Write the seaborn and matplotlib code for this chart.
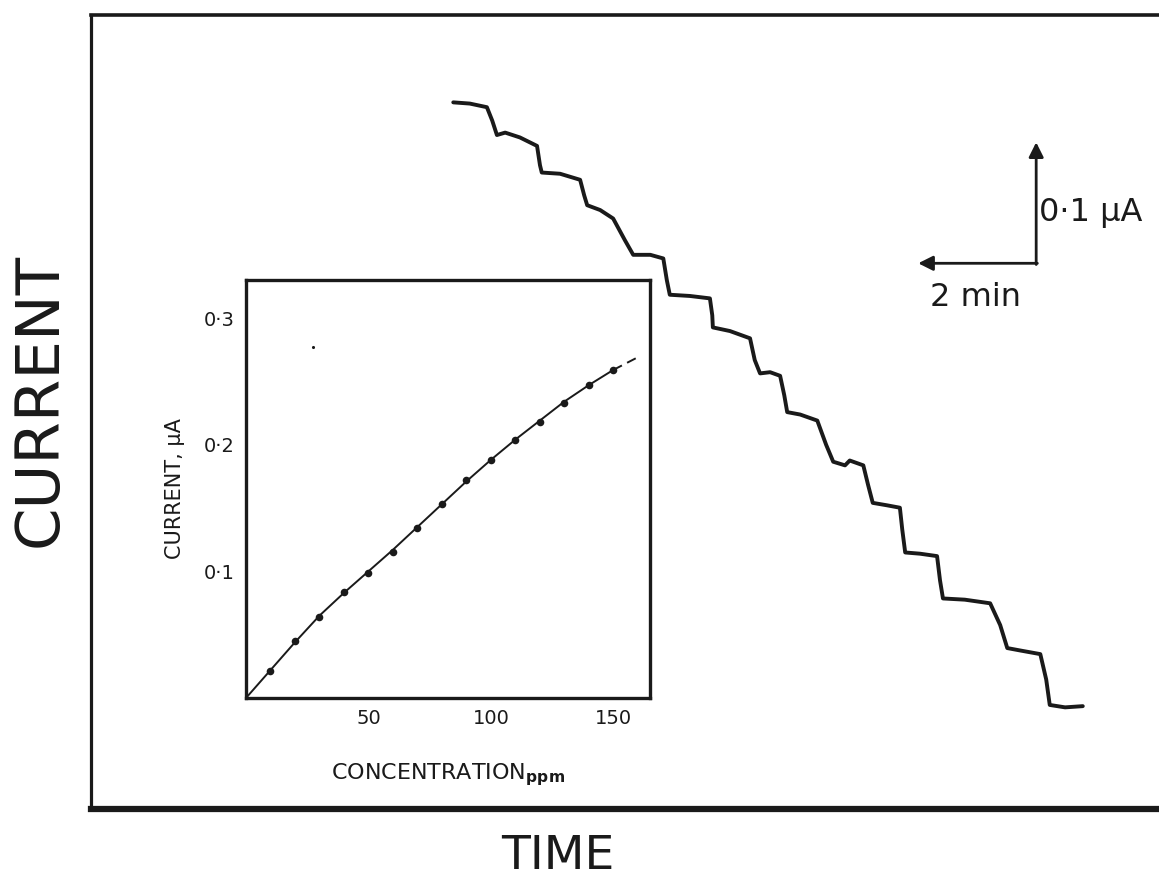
import matplotlib
matplotlib.use("Agg")
import matplotlib.pyplot as plt
import seaborn as sns
import pandas as pd

# ---------------- data ----------------
# main recorder trace (time in min, current in uA)
trace_time = [6.14, 6.42, 6.71, 6.80, 6.88, 7.02, 7.27, 7.56, 7.61, 7.64, 7.95, 8.29,
              8.36, 8.41, 8.63, 8.85, 9.05, 9.19, 9.48, 9.70, 9.76, 9.81, 10.15, 10.49,
              10.53, 10.54, 10.83, 11.17, 11.25, 11.34, 11.51, 11.68, 11.75, 11.80, 12.02,
              12.31, 12.46, 12.58, 12.78, 12.86, 13.09, 13.17, 13.25, 13.49, 13.71, 13.75,
              13.80, 14.05, 14.34, 14.39, 14.44, 14.81, 15.24, 15.41, 15.53, 15.75, 16.09,
              16.19, 16.25, 16.51, 16.81]
trace_current = [0.584, 0.583, 0.580, 0.569, 0.557, 0.559, 0.555, 0.548, 0.532, 0.526,
                 0.525, 0.520, 0.507, 0.499, 0.495, 0.488, 0.470, 0.458, 0.458, 0.455,
                 0.437, 0.425, 0.424, 0.422, 0.408, 0.398, 0.395, 0.389, 0.371, 0.360,
                 0.361, 0.358, 0.342, 0.328, 0.326, 0.321, 0.301, 0.287, 0.284, 0.288,
                 0.284, 0.268, 0.253, 0.251, 0.249, 0.231, 0.212, 0.211, 0.209, 0.189,
                 0.174, 0.173, 0.170, 0.152, 0.133, 0.131, 0.128, 0.107, 0.086, 0.084, 0.085]

# inset calibration
conc_points = [10, 20, 30, 40, 50, 60, 70, 80, 90, 100, 110, 120, 130, 140, 150]
current_points = [0.021, 0.045, 0.064, 0.084, 0.099, 0.115, 0.134, 0.153, 0.172,
                  0.188, 0.204, 0.218, 0.233, 0.247, 0.259]
curve_conc = [0, 10, 20, 30, 40, 50, 60, 70, 80, 90, 100, 110, 120, 130, 140, 150]
curve_current = [0.0, 0.022, 0.044, 0.065, 0.083, 0.100, 0.117, 0.135, 0.153, 0.171,
                 0.188, 0.204, 0.219, 0.234, 0.247, 0.259]
dash_conc = [150, 160]
dash_current = [0.259, 0.269]
speck_conc = [27.5]
speck_current = [0.277]

inset_yticks = [0.1, 0.2, 0.3]
inset_yticklabels = ["0·1", "0·2", "0·3"]
inset_xticks = [50, 100, 150]
inset_xticklabels = ["50", "100", "150"]

# scale bar (corner, lengths)
bar_corner = (16.02, 0.451)
bar_current = 0.1
bar_time = 2.0

# ---------------- style ----------------
sns.set_theme(style="white")
plt.rcParams['font.family'] = ['DejaVu Sans']
ink = "#1a1a1a"

fig = plt.figure(figsize=(11.59, 8.81), dpi=100)
fig.patch.set_facecolor("white")

W, H = 1159, 881
ax = fig.add_axes([91 / W, 1 - 809 / H, (1165 - 91) / W, 794 / H])
ax.set_facecolor("white")
sns.lineplot(x=trace_time, y=trace_current, ax=ax, color=ink, lw=2.8,
             sort=False, estimator=None)
ax.set_xlim(0, (1165 - 91) / 59)
ax.set_ylim(0, 794 / 1210)
ax.set_xticks([])
ax.set_yticks([])
for s in ["left", "top", "bottom", "right"]:
    ax.spines[s].set_color(ink)
ax.spines["left"].set_linewidth(2.3)
ax.spines["top"].set_linewidth(2.6)
ax.spines["bottom"].set_linewidth(4.5)
ax.spines["right"].set_linewidth(2.3)

# scale bars
cx, cy = bar_corner
ax.annotate("", xy=(cx, cy + bar_current), xytext=(cx, cy - 0.001),
            arrowprops=dict(arrowstyle="-|>", color=ink, lw=2.0,
                            mutation_scale=22, shrinkA=0, shrinkB=0))
ax.annotate("", xy=(cx - bar_time, cy), xytext=(cx + 0.02, cy),
            arrowprops=dict(arrowstyle="-|>", color=ink, lw=2.0,
                            mutation_scale=22, shrinkA=0, shrinkB=0))
ax.text(cx + 0.05, cy + 0.042, "0·1 µA", fontsize=23, color=ink,
        ha="left", va="center")
ax.text(cx - bar_time + 0.2, cy - 0.028, "2 min", fontsize=23, color=ink,
        ha="left", va="center")

fig.text(40 / W, 1 - 400 / H, "CURRENT", rotation=90, fontsize=44, color=ink,
         ha="center", va="center")
fig.text(558 / W, 1 - 879 / H, "TIME", fontsize=34, color=ink,
         ha="center", va="bottom")

# inset
ax2 = fig.add_axes([246 / W, 1 - 698 / H, 404 / W, 418 / H])
ax2.set_facecolor("white")
sns.lineplot(x=curve_conc, y=curve_current, ax=ax2, color=ink, lw=1.4,
             sort=False, estimator=None)
sns.lineplot(x=dash_conc, y=dash_current, ax=ax2, color=ink, lw=1.4,
             sort=False, estimator=None, linestyle=(0, (5, 3)))
sns.scatterplot(x=conc_points, y=current_points, ax=ax2, color=ink, s=30,
                edgecolor=ink, linewidth=0, zorder=3)
sns.scatterplot(x=speck_conc, y=speck_current, ax=ax2, color=ink, s=5,
                linewidth=0)
ax2.set_xlim(0, 165)
ax2.set_ylim(0, 0.33)
ax2.set_xticks(inset_xticks)
ax2.set_xticklabels(inset_xticklabels, fontsize=14, color=ink)
ax2.set_yticks(inset_yticks)
ax2.set_yticklabels(inset_yticklabels, fontsize=14, color=ink)
ax2.tick_params(axis="both", length=3, width=1, color=ink, direction="out", pad=5)
for s in ax2.spines.values():
    s.set_color(ink)
    s.set_linewidth(2.4)
ax2.set_xlabel("CONCENTRATION$_{\\mathbf{ppm}}$", fontsize=16, color=ink, labelpad=24)
ax2.set_ylabel("CURRENT, µA", fontsize=15, color=ink, labelpad=14)

fig.savefig("out.png", dpi=100, facecolor="white")
